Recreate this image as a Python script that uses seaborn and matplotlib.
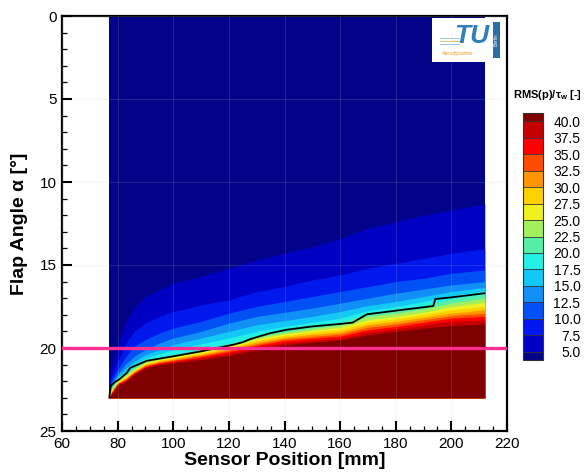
import matplotlib
matplotlib.use("Agg")
import matplotlib.pyplot as plt
import seaborn as sns
import pandas as pd
from matplotlib.colors import ListedColormap, BoundaryNorm
from matplotlib.cm import ScalarMappable
from matplotlib.patches import Rectangle

sns.set_style("white")
plt.rcParams["font.family"] = ["Liberation Sans", "DejaVu Sans"]
plt.rcParams["text.color"] = "black"
plt.rcParams["axes.labelcolor"] = "black"
plt.rcParams["xtick.color"] = "black"
plt.rcParams["ytick.color"] = "black"
plt.rcParams["mathtext.fontset"] = "custom"
plt.rcParams["mathtext.rm"] = "Liberation Sans"
plt.rcParams["mathtext.it"] = "Liberation Sans:italic"
plt.rcParams["mathtext.bf"] = "Liberation Sans:bold"

# ---------------- data ----------------
sensor_x = [77, 78, 80, 83, 86, 90, 95, 100, 110, 120, 130, 140, 150, 160, 170, 180, 190, 200, 212]
field_top = 0.0
field_bottom = 23.0

levels = [5.0, 7.5, 10.0, 12.5, 15.0, 17.5, 20.0, 22.5, 25.0, 27.5, 30.0, 32.5, 35.0, 37.5, 40.0]

# flap angle [deg] at which RMS(p)/tau_w crosses each level, per sensor position
iso_05 = [21.7, 21.0, 19.9, 18.4, 17.6, 16.9, 16.5, 16.1, 15.7, 15.2, 14.7, 14.3, 13.9, 13.4, 12.8, 12.4, 12.0, 11.7, 11.3]
iso_075 = [22.1, 21.6, 20.8, 19.7, 19.0, 18.5, 18.1, 17.8, 17.4, 17.1, 16.6, 16.3, 15.9, 15.6, 15.2, 14.9, 14.6, 14.3, 14.0]
iso_10 = [22.35, 21.9, 21.3, 20.5, 19.9, 19.5, 19.1, 18.8, 18.4, 17.9, 17.5, 17.2, 16.9, 16.6, 16.3, 16.0, 15.8, 15.5, 15.3]
iso_125 = [22.5, 22.05, 21.55, 20.95, 20.5, 20.1, 19.7, 19.4, 19.0, 18.5, 18.1, 17.85, 17.6, 17.3, 17.0, 16.7, 16.45, 16.2, 16.0]
iso_15 = [22.6, 22.15, 21.7, 21.2, 20.8, 20.4, 20.1, 19.8, 19.4, 19.0, 18.6, 18.35, 18.1, 17.8, 17.45, 17.2, 16.9, 16.6, 16.35]
iso_175 = [22.7, 22.25, 21.8, 21.4, 21.0, 20.6, 20.35, 20.1, 19.75, 19.4, 19.0, 18.7, 18.45, 18.2, 17.75, 17.5, 17.2, 16.85, 16.55]
iso_20 = [22.8, 22.35, 21.9, 21.55, 21.15, 20.75, 20.55, 20.4, 20.1, 19.75, 19.25, 18.95, 18.7, 18.45, 17.95, 17.75, 17.45, 17.05, 16.75]
iso_225 = [22.83, 22.4, 21.95, 21.62, 21.22, 20.82, 20.62, 20.47, 20.17, 19.83, 19.35, 19.05, 18.82, 18.6, 18.1, 17.9, 17.65, 17.3, 17.0]
iso_25 = [22.86, 22.45, 22.0, 21.68, 21.28, 20.88, 20.68, 20.53, 20.24, 19.9, 19.45, 19.15, 18.94, 18.75, 18.3, 18.1, 17.85, 17.5, 17.25]
iso_275 = [22.88, 22.5, 22.05, 21.74, 21.34, 20.94, 20.74, 20.6, 20.31, 19.97, 19.55, 19.25, 19.06, 18.9, 18.45, 18.25, 18.0, 17.7, 17.5]
iso_30 = [22.9, 22.55, 22.1, 21.8, 21.4, 21.0, 20.8, 20.66, 20.38, 20.05, 19.65, 19.35, 19.18, 19.03, 18.6, 18.4, 18.15, 17.9, 17.7]
iso_325 = [22.92, 22.6, 22.13, 21.85, 21.45, 21.05, 20.85, 20.72, 20.45, 20.13, 19.75, 19.45, 19.3, 19.16, 18.75, 18.55, 18.3, 18.05, 17.9]
iso_35 = [22.94, 22.65, 22.16, 21.9, 21.5, 21.1, 20.9, 20.78, 20.52, 20.22, 19.85, 19.55, 19.42, 19.28, 18.9, 18.7, 18.45, 18.2, 18.1]
iso_375 = [22.96, 22.7, 22.2, 21.95, 21.55, 21.15, 20.95, 20.84, 20.6, 20.32, 19.97, 19.67, 19.54, 19.4, 19.05, 18.85, 18.6, 18.4, 18.3]
iso_40 = [22.98, 22.75, 22.25, 22.0, 21.6, 21.2, 21.0, 20.9, 20.7, 20.45, 20.1, 19.8, 19.65, 19.52, 19.2, 19.0, 18.8, 18.65, 18.55]

# black separation line
line_x = [77.0, 77.5, 79.0, 80.5, 83.3, 84.5, 90.5, 100, 110, 121.6, 125, 127.6, 135, 140.8, 150, 160, 164.5,
          169.6, 180, 193.5, 194.2, 200, 212]
line_y = [23.0, 22.3, 22.05, 21.9, 21.5, 21.2, 20.77, 20.5, 20.2, 19.8, 19.65, 19.47, 19.1, 18.9, 18.7, 18.55,
          18.47, 17.97, 17.75, 17.47, 17.05, 16.95, 16.7]

# magenta reference angle
ref_angle = 20.0

band_colors = ["#03038a", "#0000c4", "#0018ee", "#0050f6", "#1090f6", "#12c8f6", "#22f0e6", "#55f0a6",
               "#a4f05c", "#eef020", "#ffd000", "#ff9600", "#ff4c00", "#ff0000", "#c40000", "#800000"]

x_ticks = [60, 80, 100, 120, 140, 160, 180, 200, 220]
y_ticks = [0, 5, 10, 15, 20, 25]

# ---------------- figure ----------------
W, H = 587, 472
fig = plt.figure(figsize=(W / 100, H / 100), dpi=100)
ax = fig.add_axes([62 / W, 1 - 431 / H, (507 - 62) / W, (431 - 16) / H])

iso_all = [iso_05, iso_075, iso_10, iso_125, iso_15, iso_175, iso_20, iso_225, iso_25,
           iso_275, iso_30, iso_325, iso_35, iso_375, iso_40]

# filled contour bands (painted top-down so that no seams remain)
ax.fill_between(sensor_x, field_top, field_bottom, color=band_colors[0], lw=0, zorder=1)
for iso, col in zip(iso_all, band_colors[1:]):
    ax.fill_between(sensor_x, iso, field_bottom, color=col, lw=0, zorder=1)

# black line (seaborn)
df_line = pd.DataFrame({"x": line_x, "y": line_y})
sns.lineplot(data=df_line, x="x", y="y", sort=False, estimator=None, color="black", lw=1.3, ax=ax, zorder=4)

# magenta line
ax.axhline(ref_angle, color="#ff2e92", lw=2.4, zorder=5)

ax.set_xlim(60, 220)
ax.set_ylim(25, 0)
ax.set_xticks(x_ticks)
ax.set_yticks(y_ticks)
ax.set_xticks(range(60, 221, 5), minor=True)
ax.set_yticks(range(0, 26, 1), minor=True)
ax.grid(True, which="major", color="#bbbbbb", lw=0.7, alpha=0.18, zorder=3)
ax.set_axisbelow(False)
ax.tick_params(which="major", direction="in", length=7, width=1.5, labelsize=11, pad=4,
               bottom=True, left=True, top=False, right=False)
ax.tick_params(which="minor", direction="in", length=3.5, width=0.9,
               bottom=True, left=True, top=False, right=False)
for s in ax.spines.values():
    s.set_linewidth(1.6)
    s.set_color("black")
ax.set_xlabel("Sensor Position [mm]", fontsize=14, fontweight="bold", labelpad=1)
ax.set_ylabel("Flap Angle α [°]", fontsize=14, fontweight="bold", labelpad=8)

# colorbar
cmap = ListedColormap(band_colors)
norm = BoundaryNorm(levels, ncolors=len(band_colors), extend="both")
cax = fig.add_axes([523 / W, 1 - 360 / H, 20 / W, (360 - 113) / H])
cb = fig.colorbar(ScalarMappable(norm=norm, cmap=cmap), cax=cax, extend="both", extendrect=True,
                  extendfrac=0.036, drawedges=True, ticks=levels, spacing="uniform")
cb.outline.set_linewidth(0.8)
cb.outline.set_edgecolor("#333333")
cb.dividers.set_color("#333333")
cb.dividers.set_linewidth(0.6)
cax.set_yticklabels([f"{v:.1f}" for v in levels])
cax.tick_params(length=0, labelsize=10, pad=27)
for lab in cax.get_yticklabels():
    lab.set_ha("right")
fig.text(547 / W, 1 - 95 / H, r"RMS(p)/$\mathbf{\tau_w}$ [-]", ha="center", va="center",
         fontsize=8, fontweight="bold")

# logo (approximation of the institute logo)
def fig_rect(x0, y0, x1, y1, **kw):
    r = Rectangle((x0 / W, 1 - y1 / H), (x1 - x0) / W, (y1 - y0) / H, transform=fig.transFigure, **kw)
    fig.add_artist(r)

fig_rect(432, 18, 500, 62, facecolor="white", edgecolor="none", zorder=10)
fig_rect(493, 22, 500, 58, facecolor="#2a6fa8", edgecolor="none", zorder=11)
fig.text(496.5 / W, 1 - 40 / H, "Berlin", rotation=90, color="white", fontsize=3.5, ha="center",
         va="center", zorder=12)
fig.text(472 / W, 1 - 36 / H, "TU", color="#2e80b8", fontsize=19, fontweight="bold", style="italic",
         ha="center", va="center", zorder=12)
for i, yy in enumerate([38, 41, 44]):
    fig_rect(440, yy, 460, yy + 1.2, facecolor=["#9fc4e0", "#f0c070", "#9fc4e0"][i], edgecolor="none", zorder=11)
fig.text(458 / W, 1 - 54 / H, "Aerodynamik", color="#e89a20", fontsize=3.8, ha="center", va="center",
         zorder=12)

fig.savefig("out.png", dpi=100)
